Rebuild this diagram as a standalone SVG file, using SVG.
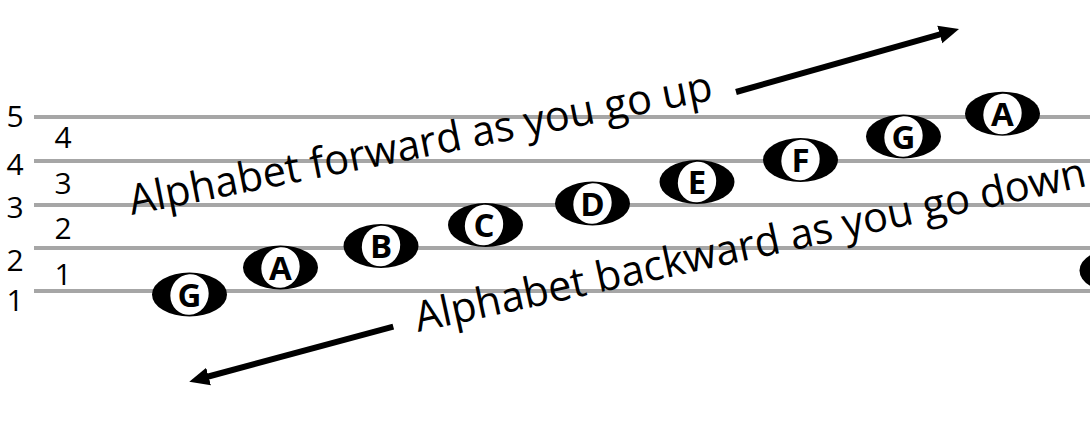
<svg xmlns="http://www.w3.org/2000/svg" width="1090" height="442" viewBox="0 0 1090 442">
<style>
.staff{stroke:#a6a6a6;stroke-width:4;}
.num{font-family:"Open Sans","Liberation Sans",sans-serif;font-size:30px;fill:#000;text-anchor:middle;}
.lbl{font-family:"Open Sans","Liberation Sans",sans-serif;font-size:42px;fill:#000;}
.nb{fill:#000;}
.nw{fill:#fff;}
.nt{font-family:"Open Sans","Liberation Sans",sans-serif;font-weight:bold;font-size:33px;fill:#000;text-anchor:middle;}
.arr{stroke:#000;stroke-width:6;fill:none;marker-end:url(#ah);}
</style>
<defs>
<marker id="ah" markerUnits="userSpaceOnUse" markerWidth="24" markerHeight="22" viewBox="0 -11 24 22" refX="4" refY="0" orient="auto">
<path d="M0,-9 L20,0 L0,9 z" fill="#000"/>
</marker>
</defs>
<rect width="1090" height="442" fill="#fff"/>
<g id="staff">
<line class="staff" x1="34" y1="117" x2="1090" y2="117"/>
<line class="staff" x1="34" y1="161" x2="1090" y2="161"/>
<line class="staff" x1="34" y1="205" x2="1090" y2="205"/>
<line class="staff" x1="34" y1="248" x2="1090" y2="248"/>
<line class="staff" x1="34" y1="291" x2="1090" y2="291"/>
</g>
<g id="line-numbers">
<text class="num" x="15" y="127">5</text>
<text class="num" x="15" y="175">4</text>
<text class="num" x="15" y="218">3</text>
<text class="num" x="15" y="271">2</text>
<text class="num" x="15" y="311">1</text>
</g>
<g id="space-numbers">
<text class="num" x="63" y="148">4</text>
<text class="num" x="63" y="194">3</text>
<text class="num" x="63" y="239">2</text>
<text class="num" x="63" y="285">1</text>
</g>
<g id="note-G1"><ellipse class="nb" cx="189.5" cy="294.5" rx="37.5" ry="22"/><ellipse class="nw" cx="189.5" cy="294.5" rx="19" ry="20.5" transform="rotate(20 189.5 294.5)"/><text class="nt" x="189.5" y="306.5">G</text></g>
<g id="note-A1"><ellipse class="nb" cx="280.5" cy="267.5" rx="37.5" ry="22"/><ellipse class="nw" cx="280.5" cy="267.5" rx="19" ry="20.5" transform="rotate(20 280.5 267.5)"/><text class="nt" x="280.5" y="279.5">A</text></g>
<g id="note-B"><ellipse class="nb" cx="381" cy="246" rx="37.5" ry="22"/><ellipse class="nw" cx="381" cy="246" rx="19" ry="20.5" transform="rotate(20 381 246)"/><text class="nt" x="381" y="258">B</text></g>
<g id="note-C"><ellipse class="nb" cx="485.5" cy="225" rx="37.5" ry="22"/><ellipse class="nw" cx="484" cy="225" rx="19" ry="20.5" transform="rotate(20 484 225)"/><text class="nt" x="484" y="237">C</text></g>
<g id="note-D"><ellipse class="nb" cx="592.5" cy="203.5" rx="37.5" ry="22"/><ellipse class="nw" cx="592.5" cy="203.5" rx="19" ry="20.5" transform="rotate(20 592.5 203.5)"/><text class="nt" x="592.5" y="215.5">D</text></g>
<g id="note-E"><ellipse class="nb" cx="697" cy="182" rx="37.5" ry="22"/><ellipse class="nw" cx="697" cy="182" rx="19" ry="20.5" transform="rotate(20 697 182)"/><text class="nt" x="697" y="194">E</text></g>
<g id="note-F"><ellipse class="nb" cx="800.5" cy="160" rx="37.5" ry="22"/><ellipse class="nw" cx="800.5" cy="160" rx="19" ry="20.5" transform="rotate(20 800.5 160)"/><text class="nt" x="800.5" y="172">F</text></g>
<g id="note-G2"><ellipse class="nb" cx="903.5" cy="136.5" rx="37.5" ry="22"/><ellipse class="nw" cx="903.5" cy="136.5" rx="19" ry="20.5" transform="rotate(20 903.5 136.5)"/><text class="nt" x="903.5" y="148.5">G</text></g>
<g id="note-A2"><ellipse class="nb" cx="1002.5" cy="113.7" rx="37.5" ry="22"/><ellipse class="nw" cx="1002.5" cy="114" rx="19" ry="20.5" transform="rotate(20 1002.5 114)"/><text class="nt" x="1002.5" y="126">A</text></g>
<g id="note-edge"><ellipse class="nb" cx="1117" cy="270.5" rx="37.5" ry="22"/></g>
<g id="label-forward">
<text class="lbl" x="131.7" y="215" textLength="594" lengthAdjust="spacingAndGlyphs" transform="rotate(-11.2 131.7 215)">Alphabet forward as you go up</text>
</g>
<g id="label-backward">
<text class="lbl" x="418" y="332" textLength="686" lengthAdjust="spacingAndGlyphs" transform="rotate(-12.3 418 332)">Alphabet backward as you go down</text>
</g>
<g id="connectors">
<path class="arr" d="M736,92 L943.6,33.4"/>
<path class="arr" d="M393.3,326.7 L204.7,377.5"/>
</g>
</svg>
